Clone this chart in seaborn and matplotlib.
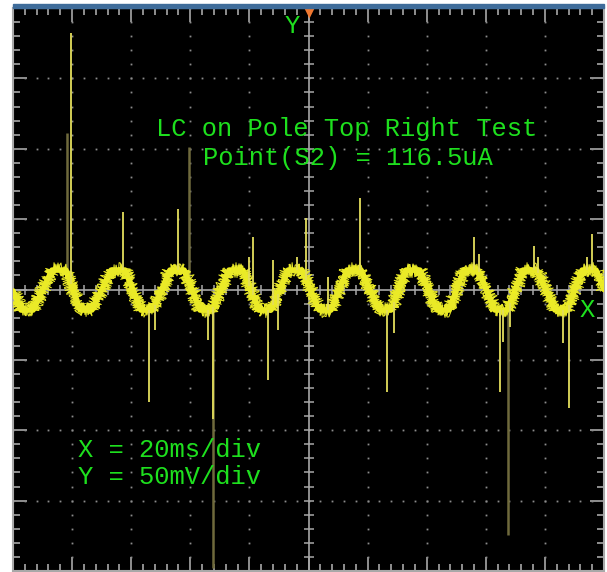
import numpy as np
import pandas as pd
import matplotlib
matplotlib.use("Agg")
import matplotlib.pyplot as plt
from matplotlib.ticker import MultipleLocator
from matplotlib.patches import Rectangle
import seaborn as sns

# Time base: 20 ms/div over 10 divisions; vertical: 50 mV/div over 8 divisions
# Trace key points (ms, mV): noisy flat tops and bottoms of the 50 Hz ripple
wave_t = [0.0, 2.7, 6.8, 13.2, 17.9, 22.7, 26.7, 33.2, 37.9, 43.3, 47.4,
          53.1, 57.9, 63.3, 67.3, 73.1, 77.8, 83.2, 87.3, 93.1, 97.8,
          103.6, 107.6, 113.0, 117.8, 123.9, 127.9, 133.0, 137.7, 143.5, 147.5,
          152.6, 157.4, 163.1, 167.2, 172.6, 177.3, 183.4, 187.5, 192.6, 197.3, 200.0]
wave_v = [-1.0, -14.6, -14.6, 13.8, 13.8, -14.6, -14.6, 13.8, 13.8, -14.6, -14.6,
          13.8, 13.8, -14.6, -14.6, 13.8, 13.8, -14.6, -14.6, 13.8, 13.8,
          -14.6, -14.6, 13.8, 13.8, -14.6, -14.6, 13.8, 13.8, -14.6, -14.6,
          13.8, 13.8, -14.6, -14.6, 13.8, 13.8, -14.6, -14.6, 13.8, 13.8, 0.0]

# Glitches: time (ms) and tip level (mV)
glitch_t = [19.6, 37.2, 55.8, 79.9, 81.2, 88.0, 96.1, 99.2, 106.6, 117.4,
            156.0, 157.7, 176.3, 177.7, 194.2, 196.0,
            46.0, 48.1, 66.0, 67.7, 86.3, 89.7, 126.6, 128.9, 164.8, 165.8,
            168.2, 186.1, 188.2]
glitch_v = [182.2, 55.0, 57.2, 23.1, 37.3, 21.0, 23.1, 50.8, 8.9, 65.0,
            37.3, 25.2, 30.9, 23.1, 23.1, 39.4,
            -79.9, -28.8, -35.9, -92.0, -64.3, -28.8, -72.8, -30.9, -72.8, -37.6,
            -26.6, -38.3, -84.2]
# Fainter persistence glitches
faint_t = [18.3, 59.6, 67.7, 167.5]
faint_v = [111.2, 101.2, -197.8, -174.4]

title_lines = ["LC on Pole Top Right Test", "Point(S2) = 116.5uA"]
scale_lines = ["X = 20ms/div", "Y = 50mV/div"]

GREEN = "#1ee01e"
GRID = "#8c8c8c"
FRAME = "#a8a8a8"

sns.set_style("dark")
W, H = 607, 572
fig = plt.figure(figsize=(W / 100, H / 100), dpi=100, facecolor="white")
ax = fig.add_axes([13 / W, 1 / H, 591 / W, 563 / H])
ax.set_facecolor("black")
ax.set_xlim(0, 200)
ax.set_ylim(-200, 200)
ax.grid(False)

# Dotted graticule
for t in range(20, 200, 20):
    if t == 100:
        continue
    ys = np.arange(-200, 201, 10)
    ax.plot(np.full_like(ys, t, dtype=float), ys, ls="none", marker="s",
            ms=1.3, mec="none", mfc=GRID, zorder=1)
for v in (-150, -100, -50, 50, 100, 150):
    xs = np.arange(0, 201, 4)
    ax.plot(xs, np.full_like(xs, v, dtype=float), ls="none", marker="s",
            ms=1.3, mec="none", mfc=GRID, zorder=1)

# Centre cross with minor ticks
ax.axvline(100, color=FRAME, lw=1.2, zorder=1)
ax.axhline(0, color=FRAME, lw=1.2, zorder=1)
xs = np.arange(0, 201, 4)
ax.plot(xs, np.zeros_like(xs), ls="none", marker="|", ms=7.5, mew=1.1,
        color=FRAME, zorder=1)
ys = np.arange(-200, 201, 10)
ax.plot(np.full_like(ys, 100), ys, ls="none", marker="_", ms=7.5, mew=1.1,
        color=FRAME, zorder=1)

# Edge ticks
ax.xaxis.set_major_locator(MultipleLocator(20))
ax.xaxis.set_minor_locator(MultipleLocator(4))
ax.yaxis.set_major_locator(MultipleLocator(50))
ax.yaxis.set_minor_locator(MultipleLocator(10))
ax.tick_params(which="both", direction="in", top=True, right=True,
               bottom=True, left=True, labelbottom=False, labelleft=False,
               color=FRAME, width=1.2)
ax.tick_params(which="major", length=10)
ax.tick_params(which="minor", length=5)
for s in ax.spines.values():
    s.set_color(FRAME)
    s.set_linewidth(1.5)

trace = pd.DataFrame({"t": wave_t, "v": wave_v})

# Faint glitches sit behind the trace
faint_base = np.interp(faint_t, wave_t, wave_v)
ax.vlines(faint_t, faint_base, faint_v, color="#6f6a3c", lw=1.8, zorder=2)

# Ripple trace: solid core plus jittered strands for the noise band
sns.lineplot(data=trace, x="t", y="v", ax=ax, color="#f0f020", lw=4.0,
             sort=False, estimator=None, zorder=3)
ax.lines[-1].set_solid_joinstyle("round")
for lw, sc, ln in ((0.9, 6, 1.5), (0.9, 5, 2.5), (0.7, 7.5, 1.0)):
    sns.lineplot(data=trace, x="t", y="v", ax=ax, color="#eaea28", lw=lw,
                 sort=False, estimator=None, zorder=3)
    ax.lines[-1].set_sketch_params(scale=sc, length=ln, randomness=6)

glitch_base = np.interp(glitch_t, wave_t, wave_v)
ax.vlines(glitch_t, glitch_base, glitch_v, color="#e4de5c", lw=1.3, zorder=4)

ax.set_xlabel("")
ax.set_ylabel("")

mono = "Liberation Mono"
ax.text(112.9, 109.0, title_lines[0], color=GREEN, family=mono, fontsize=18.4,
        ha="center", va="baseline", zorder=5)
ax.text(113.2, 88.4, title_lines[1], color=GREEN, family=mono, fontsize=18.4,
        ha="center", va="baseline", zorder=5)
ax.text(22.0, -119.0, scale_lines[0], color=GREEN, family=mono, fontsize=18.4,
        ha="left", va="baseline", zorder=5)
ax.text(22.0, -138.1, scale_lines[1], color=GREEN, family=mono, fontsize=18.4,
        ha="left", va="baseline", zorder=5)
ax.text(94.4, 182.1, "Y", color=GREEN, family=mono, fontsize=18.4,
        ha="center", va="baseline", zorder=5)
ax.text(194.2, -19.5, "X", color=GREEN, family=mono, fontsize=18.4,
        ha="center", va="baseline", zorder=5)

# Trigger position marker
ax.plot([100.2], [197.5], marker="v", ms=8, color="#f07830", mec="none",
        clip_on=False, zorder=6)

# Status strip above the screen
fig.patches.append(Rectangle((13 / W, (H - 8) / H), 591 / W, 4 / H,
                             transform=fig.transFigure, color="#3f6c9a",
                             zorder=10))

fig.savefig("out.png", dpi=100, facecolor="white")
